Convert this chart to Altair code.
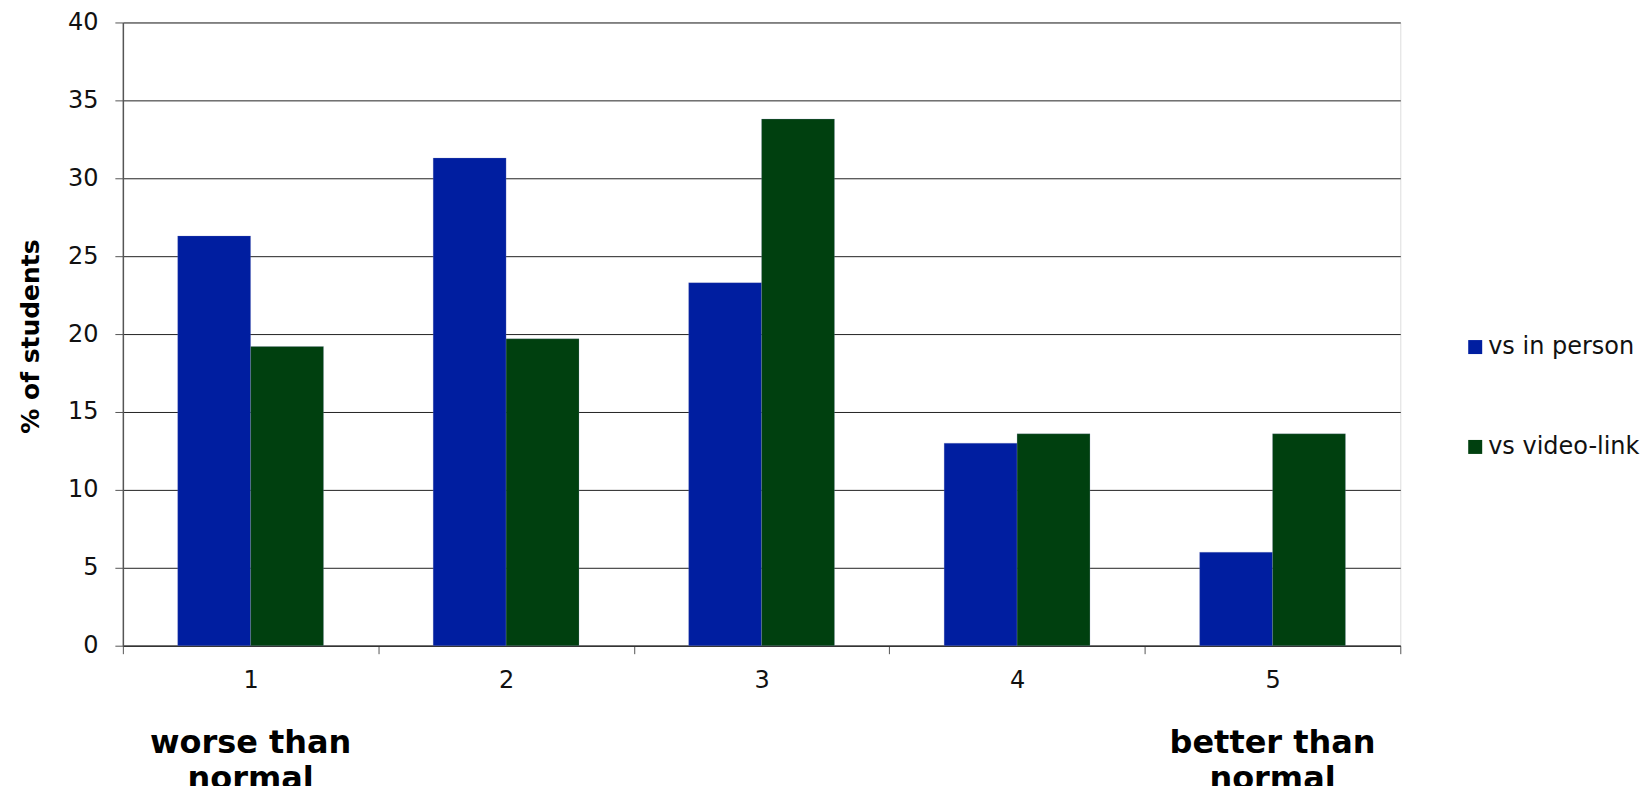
import altair as alt
import pandas as pd

categories = ["1", "2", "3", "4", "5"]
series = ["vs in person", "vs video-link"]
in_person = [26.3, 31.3, 23.3, 13.0, 6.0]
video_link = [19.2, 19.7, 33.8, 13.6, 13.6]
colors = ["#001EA0", "#00400F"]
end_categories = ["1", "5"]
end_labels = ["worse than\nnormal", "better than\nnormal"]
y_ticks = [0, 5, 10, 15, 20, 25, 30, 35, 40]

rows = []
for c, a, b in zip(categories, in_person, video_link):
    rows.append({"rating": c, "series": series[0], "pct": a})
    rows.append({"rating": c, "series": series[1], "pct": b})
df = pd.DataFrame(rows)
ann = pd.DataFrame({"rating": end_categories, "label": end_labels})

W, H = 1279, 624
FONT = "DejaVu Sans"

xscale = alt.Scale(domain=categories, paddingInner=0, paddingOuter=0)

bars = alt.Chart(df).mark_bar(stroke="#8890c0", strokeWidth=0.4, strokeOpacity=0.6).encode(
    x=alt.X("rating:N", scale=xscale, sort=categories,
            axis=alt.Axis(title=None, labelAngle=0, tickBand="extent", tickSize=8,
                          tickColor="#555", domainColor="#333", domainWidth=1.5,
                          labelFontSize=24, labelPadding=15, labelColor="#111",
                          labelFont=FONT, grid=False)),
    xOffset=alt.XOffset("series:N", sort=series,
                        scale=alt.Scale(domain=series, paddingInner=0, paddingOuter=0.752)),
    y=alt.Y("pct:Q", scale=alt.Scale(domain=[0, 40], nice=False),
            axis=alt.Axis(values=y_ticks, title="% of students", tickSize=8,
                          tickColor="#555", domainColor="#555", domainWidth=1.5,
                          labelFontSize=24, labelPadding=17, labelColor="#111",
                          labelFont=FONT, gridColor="#222", gridWidth=1,
                          titleFont=FONT, titleFontSize=25, titleFontWeight="bold",
                          titleColor="#000", titleX=-92, titleY=H / 2 + 2,
                          titleAlign="center", titleBaseline="middle", titleAngle=270)),
    color=alt.Color("series:N", sort=series,
                    scale=alt.Scale(domain=series, range=colors),
                    legend=alt.Legend(title=None, orient="none", legendX=1342, legendY=313,
                                      symbolType="square", symbolSize=196,
                                      symbolStrokeWidth=0, labelFontSize=24,
                                      labelFont=FONT, labelColor="#111",
                                      labelOffset=1, rowPadding=76)),
)

text = alt.Chart(ann).mark_text(
    font=FONT, fontSize=32, fontWeight="bold", baseline="alphabetic",
    align="center", lineBreak="\n", lineHeight=36, color="#000"
).encode(
    x=alt.X("rating:N", scale=xscale, sort=categories),
    y=alt.value(731),
    text="label:N",
)

chart = alt.layer(bars, text).properties(
    width=W, height=H,
    autosize=alt.AutoSizeParams(type="none"),
    padding={"left": 115, "top": 14, "right": 240, "bottom": 140},
).configure_view(stroke="#999", strokeWidth=2).configure(background="white")

chart.save("out.html", embed_options={"renderer": "svg", "actions": False})
